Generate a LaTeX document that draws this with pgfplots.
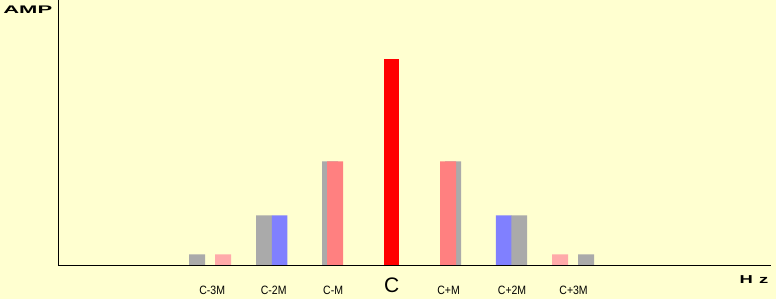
\documentclass[border=0pt]{standalone}
\usepackage{fontspec}
\setmainfont{Liberation Sans}
\usepackage{pgfplots}
\pgfplotsset{compat=1.18}
\definecolor{bg}{HTML}{FFFFD0}
\definecolor{gr}{HTML}{AAAAAA}
\definecolor{bl}{HTML}{8080FF}
\definecolor{sa}{HTML}{FF8080}
\definecolor{pk}{HTML}{FFAAAA}
\definecolor{rd}{HTML}{FF0000}
\newcommand{\tl}[1]{\scalebox{1}[1.15]{#1}}
\begin{document}
\begin{tikzpicture}
\begin{axis}[
  x=1bp, y=1bp,
  xmin=0, xmax=776, ymin=-34, ymax=265,
  hide axis, clip=false,
  every axis plot/.append style={ybar, bar shift=0pt, draw=none},
]
\fill[bg] (axis cs:0,-34) rectangle (axis cs:776,265);
% gray bars (behind)
\addplot[fill=gr, bar width=16] coordinates {(197,11) (264,50) (330,104) (453,104) (519,50) (586,11)};
% pink small
\addplot[fill=pk, bar width=16] coordinates {(223,11) (560,11)};
% blue
\addplot[fill=bl, bar width=15.5] coordinates {(279.5,50) (503.5,50)};
% salmon
\addplot[fill=sa, bar width=16] coordinates {(335,104) (448,104)};
% carrier
\addplot[fill=rd, bar width=15.5] coordinates {(391.5,206)};
\draw[line width=1bp] (axis cs:58,265) -- (axis cs:58,0) -- (axis cs:771,0);
\tikzset{tk/.style={font=\fontsize{10.5bp}{12bp}\selectfont}}
\node[tk] at (axis cs:212,-24.5) {\tl{C-3M}};
\node[tk] at (axis cs:273.5,-24.5) {\tl{C-2M}};
\node[tk] at (axis cs:333,-24.5) {\tl{C-M}};
\node[font=\fontsize{21bp}{24bp}\selectfont] at (axis cs:391.5,-20) {C};
\node[tk] at (axis cs:448.5,-24.5) {\tl{C+M}};
\node[tk] at (axis cs:512,-24.5) {\tl{C+2M}};
\node[tk] at (axis cs:573.5,-24.5) {\tl{C+3M}};
\node[font=\bfseries\fontsize{11bp}{13bp}\selectfont] at (axis cs:27.5,255.5) {\scalebox{2.0}[1]{AMP}};
\node[font=\bfseries\fontsize{11.5bp}{14bp}\selectfont] at (axis cs:754,-14) {\scalebox{1.6}[1]{H\hspace{4bp}z}};
\end{axis}
\end{tikzpicture}
\end{document}
